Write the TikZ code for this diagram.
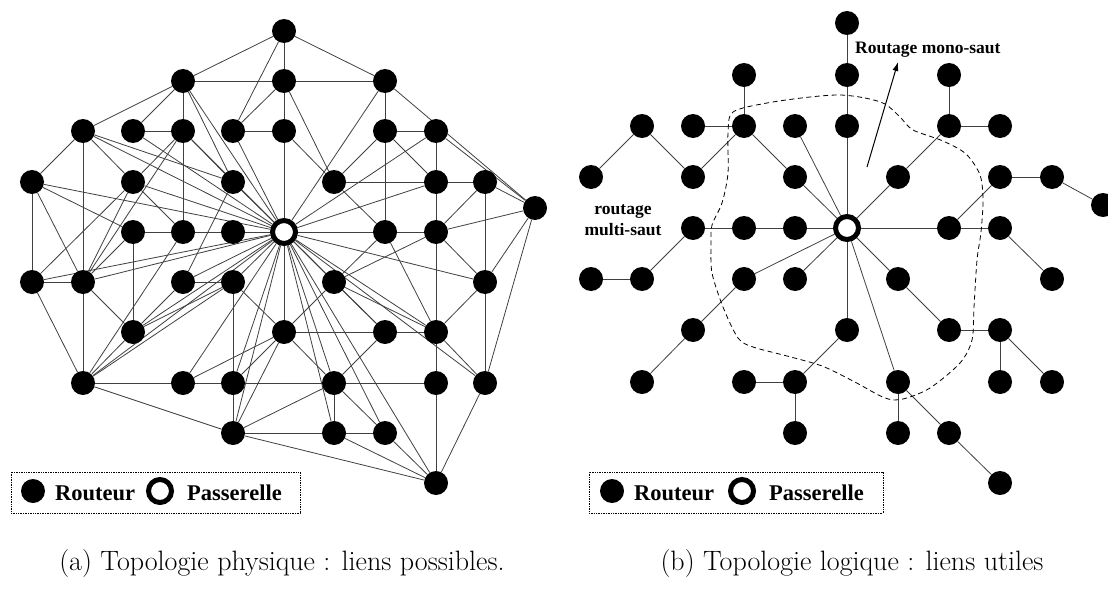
\documentclass[tikz,border=0pt]{standalone}
\usepackage{fontspec}
\newfontfamily\tnr{Liberation Serif}
\usetikzlibrary{backgrounds,arrows.meta}
\begin{document}
\begin{tikzpicture}[x=1pt,y=-1pt,
 rt/.style={circle,fill=black,minimum size=24pt,inner sep=0pt},
 gw/.style={circle,draw=black,line width=5pt,fill=white,minimum size=23pt,inner sep=0pt},
 lk/.style={draw=black!75,line width=0.8pt},
 lbl/.style={font=\tnr\bfseries\fontsize{22.5}{26}\selectfont,inner sep=0pt,anchor=base west},
 note/.style={font=\tnr\bfseries\fontsize{17.5}{21}\selectfont,inner sep=0pt,anchor=base},
 captext/.style={font=\fontsize{28}{32}\selectfont,inner sep=0pt,anchor=base},
 legbox/.style={draw=black,densely dotted,line width=0.7pt}]
\useasboundingbox (0,0) rectangle (1108,594);
% ---------------- left graph nodes ----------------
\node[rt] (a1) at (284,31) {};
\node[rt] (b1) at (183,81) {};
\node[rt] (b2) at (284,81) {};
\node[rt] (b3) at (385,81) {};
\node[rt] (c1) at (83,131) {};
\node[rt] (c2) at (133,131) {};
\node[rt] (c3) at (183,131) {};
\node[rt] (c4) at (233,131) {};
\node[rt] (c5) at (284,131) {};
\node[rt] (c6) at (385,131) {};
\node[rt] (c7) at (436,131) {};
\node[rt] (d1) at (32,182) {};
\node[rt] (d2) at (133,182) {};
\node[rt] (d3) at (233,182) {};
\node[rt] (d4) at (334,182) {};
\node[rt] (d5) at (436,182) {};
\node[rt] (d6) at (485,182) {};
\node[rt] (e0) at (535,208) {};
\node[rt] (f1) at (133,232) {};
\node[rt] (f2) at (183,232) {};
\node[rt] (f3) at (233,232) {};
\node[gw] (G) at (284,232) {};
\node[rt] (f5) at (385,232) {};
\node[rt] (f6) at (436,232) {};
\node[rt] (g1) at (32,282) {};
\node[rt] (g2) at (83,282) {};
\node[rt] (g3) at (183,282) {};
\node[rt] (g4) at (233,282) {};
\node[rt] (g5) at (334,282) {};
\node[rt] (g6) at (485,282) {};
\node[rt] (h1) at (133,332) {};
\node[rt] (h2) at (284,332) {};
\node[rt] (h3) at (385,332) {};
\node[rt] (h4) at (436,332) {};
\node[rt] (i1) at (83,383) {};
\node[rt] (i2) at (183,383) {};
\node[rt] (i3) at (233,383) {};
\node[rt] (i4) at (334,383) {};
\node[rt] (i5) at (436,383) {};
\node[rt] (i6) at (485,383) {};
\node[rt] (j1) at (233,433) {};
\node[rt] (j2) at (334,433) {};
\node[rt] (j3) at (385,433) {};
\node[rt] (k1) at (436,483) {};
% ---------------- right graph nodes ----------------
\node[rt] (r1) at (847,23) {};
\node[rt] (r2) at (744,75) {};
\node[rt] (r3) at (847,75) {};
\node[rt] (r4) at (949,75) {};
\node[rt] (r5) at (642,126) {};
\node[rt] (r6) at (693,126) {};
\node[rt] (r7) at (744,126) {};
\node[rt] (r8) at (795,126) {};
\node[rt] (r9) at (847,126) {};
\node[rt] (r10) at (949,126) {};
\node[rt] (r11) at (1000,126) {};
\node[rt] (r12) at (591,177) {};
\node[rt] (r13) at (693,177) {};
\node[rt] (r14) at (795,177) {};
\node[rt] (r15) at (898,177) {};
\node[rt] (r16) at (1000,177) {};
\node[rt] (r17) at (1052,177) {};
\node[rt] (r18) at (1103,205) {};
\node[rt] (r19) at (693,228) {};
\node[rt] (r20) at (744,228) {};
\node[rt] (r21) at (795,228) {};
\node[gw] (H) at (847,228) {};
\node[rt] (r22) at (949,228) {};
\node[rt] (r23) at (1000,228) {};
\node[rt] (r24) at (591,279) {};
\node[rt] (r25) at (642,279) {};
\node[rt] (r26) at (744,279) {};
\node[rt] (r27) at (795,279) {};
\node[rt] (r28) at (898,279) {};
\node[rt] (r29) at (1052,279) {};
\node[rt] (r30) at (693,330) {};
\node[rt] (r31) at (847,330) {};
\node[rt] (r32) at (949,330) {};
\node[rt] (r33) at (1000,330) {};
\node[rt] (r34) at (642,382) {};
\node[rt] (r35) at (744,382) {};
\node[rt] (r36) at (795,382) {};
\node[rt] (r37) at (898,382) {};
\node[rt] (r38) at (1000,382) {};
\node[rt] (r39) at (1052,382) {};
\node[rt] (r40) at (795,433) {};
\node[rt] (r41) at (898,433) {};
\node[rt] (r42) at (949,433) {};
\node[rt] (r43) at (1000,483) {};
% ---------------- edges ----------------
\begin{pgfonlayer}{background}
\foreach \p/\q in {a1/b1,a1/b2,a1/b3,a1/c4,b1/b2,b2/b3,
 b1/c1,b1/c2,b1/c3,b1/d3,b1/G,b2/c4,b2/c5,b2/d4,b3/c6,b3/e0,b3/G,
 c1/d1,c1/g2,c1/d2,c1/G,c1/d3,c2/c3,c2/G,
 c3/f2,c3/d3,c3/G,c3/d2,c3/g2,c4/c5,c4/G,c5/d4,c5/G,
 c6/c7,c6/d4,c6/f5,c6/d5,c7/d5,c7/e0,c7/G,
 d1/g1,d1/g2,d1/f1,d1/G,d2/G,d2/f2,d2/g1,d2/g2,d3/G,d3/g3,
 d4/d5,d4/f5,d5/d6,d5/f6,d5/G,d6/e0,d6/f6,d6/g6,
 e0/f6,e0/g6,e0/i6,f1/f2,f2/f3,f3/G,f1/h1,G/f5,f5/f6,
 f5/h4,f6/h4,f6/g6,g1/g2,g1/G,g2/G,g1/i1,g2/i1,g2/h1,g2/f1,
 g3/g4,g3/G,g4/G,g4/i3,g4/h2,h1/g3,h1/g4,h1/G,h1/i1,
 i1/i2,i2/i3,i3/i4,i1/j1,i1/f2,i1/G,i1/g4,
 i2/G,i2/h2,i3/G,i3/h2,i3/j1,j1/G,j1/h2,j1/i4,j1/j2,j1/k1,
 G/h2,G/g5,G/h3,G/i4,G/j2,G/j3,G/k1,G/h4,G/i6,G/g6,
 g5/h2,g5/f5,g5/f6,g5/h3,g5/h4,h2/h3,h3/h4,h2/i4,h3/i4,
 h4/i5,h4/g6,h4/i6,g6/i6,i4/i5,i4/j2,i4/j3,j2/j3,j2/k1,j3/k1,i5/k1,i6/k1}
 \draw[lk] (\p) -- (\q);
\foreach \p/\q in {r1/r3,r3/r9,r9/H,r2/r7,r5/r12,r5/r13,r13/r7,r6/r7,r7/r14,r14/H,r8/H,
 r4/r10,r10/r11,r10/r15,r15/H,r16/r17,r17/r18,r16/r22,r22/H,r22/r23,r23/r29,
 r19/r20,r20/r21,r21/H,r19/r25,r24/r25,r26/H,r27/H,r26/r30,r30/r34,
 r31/H,r31/r36,r35/r36,r36/r40,r28/H,r28/r32,r32/r33,r33/r38,r33/r39,
 r37/H,r37/r41,r37/r42,r42/r43}
 \draw[lk] (\p) -- (\q);
\end{pgfonlayer}
% ---------------- dashed region ----------------
\draw[dash pattern=on 5pt off 3.5pt,line width=0.8pt] plot[smooth cycle] coordinates {
 (840,95) (865,98) (885,104) (900,117) (913,130) (943,141) (966,154) (980,175)
 (983,200) (981,232) (977,260) (974,307) (972,340) (960,363) (930,388) (903,399)
 (885,398) (853,381) (822,366) (787,356) (753,347) (738,338) (723,307) (712,273)
 (711,245) (712,225) (722,203) (728,173) (728,133) (733,112) (767,103) (810,97)};
% ---------------- annotations ----------------
\coordinate (ar1) at (867,167);
\coordinate (ar2) at (898,62);
\draw[-{Latex[length=9pt,width=6pt]},line width=1pt] (ar1) -- (ar2);
\node[note,anchor=base west] (mono) at (855,53) {Routage mono-saut};
\node[note] (multi1) at (623,214) {routage};
\node[note] (multi2) at (623,235) {multi-saut};
% ---------------- legends ----------------
\node[legbox,minimum width=289pt,minimum height=41pt,inner sep=0pt] (leg1) at (155.5,492.5) {};
\node[rt] (ld1) at (33,491) {};
\node[lbl] (lt1) at (55,500) {Routeur};
\node[gw] (lg1) at (160,491) {};
\node[lbl] (lt2) at (187,500) {Passerelle};
\node[legbox,minimum width=294pt,minimum height=41pt,inner sep=0pt] (leg2) at (736,492.5) {};
\node[rt] (ld2) at (612,491) {};
\node[lbl] (lt3) at (634,500) {Routeur};
\node[gw] (lg2) at (742,491) {};
\node[lbl] (lt4) at (769,500) {Passerelle};
% ---------------- captions ----------------
\node[captext] (capa) at (282,570) {(a) Topologie physique : liens possibles.};
\node[captext] (capb) at (852,570) {(b) Topologie logique : liens utiles};
\end{tikzpicture}
\end{document}
